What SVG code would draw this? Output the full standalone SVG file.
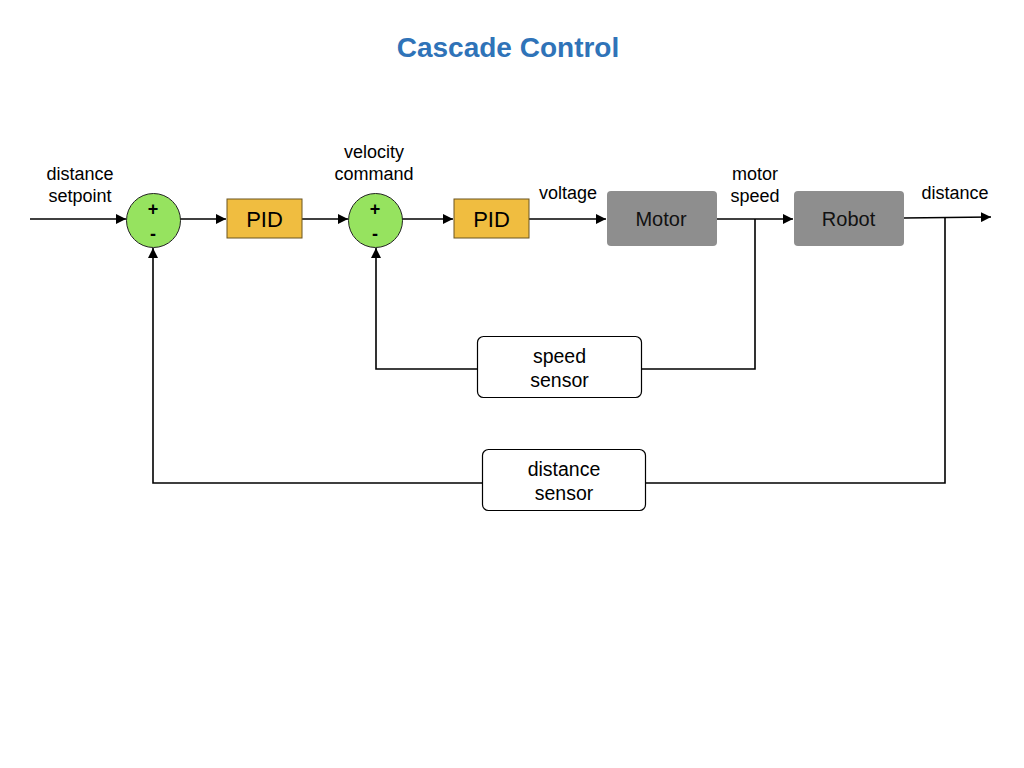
<svg xmlns="http://www.w3.org/2000/svg" width="1024" height="768" viewBox="0 0 1024 768">
<defs>
<marker id="arr" viewBox="0 0 10 10" refX="10" refY="5" markerWidth="10" markerHeight="10" markerUnits="userSpaceOnUse" orient="auto">
<path d="M0,0 L10,5 L0,10 z" fill="#000"/>
</marker>
<style>
text{font-family:"Helvetica","Liberation Sans",Arial,sans-serif;fill:#000;text-anchor:middle}
.lbl{font-size:18px}
.sum{fill:#96e35f;stroke:#222;stroke-width:1}
.sign{font-size:18px;font-weight:bold}
.pid{fill:#f0bd40;stroke:#6b5520;stroke-width:1}
.pidt{font-size:22px}
.plant{fill:#8e8e8e}
.plantt{font-size:20px;fill:#111}
.sensor{fill:#fff;stroke:#000;stroke-width:1.2}
.sensort{font-size:19.5px}
.ln{fill:none;stroke:#000;stroke-width:1.6}
</style>
</defs>
<rect width="1024" height="768" fill="#fff"/>
<text x="508" y="57" style="font-size:28px;font-weight:bold;fill:#2f73b8">Cascade Control</text>

<g id="connectors">
<line class="ln" x1="30" y1="219" x2="126" y2="219" marker-end="url(#arr)"/>
<line class="ln" x1="180" y1="219" x2="226" y2="219" marker-end="url(#arr)"/>
<line class="ln" x1="302" y1="219" x2="348" y2="219" marker-end="url(#arr)"/>
<line class="ln" x1="402" y1="219" x2="453" y2="219" marker-end="url(#arr)"/>
<line class="ln" x1="529" y1="219" x2="606" y2="219" marker-end="url(#arr)"/>
<line class="ln" x1="717" y1="219" x2="793" y2="219" marker-end="url(#arr)"/>
<line class="ln" x1="904" y1="218" x2="991" y2="217" marker-end="url(#arr)"/>
<polyline class="ln" points="755,219 755,369 642,369"/>
<polyline class="ln" points="477,369 376,369 376,248" marker-end="url(#arr)"/>
<polyline class="ln" points="945,218 945,483 646,483"/>
<polyline class="ln" points="482,483 153,483 153,248" marker-end="url(#arr)"/>
</g>

<g id="sum1">
<circle class="sum" cx="153.5" cy="220.5" r="27"/>
<text class="sign" x="153" y="215">+</text>
<text class="sign" x="153" y="240">-</text>
</g>
<g id="pid1">
<rect class="pid" x="227" y="199" width="75" height="39"/>
<text class="pidt" x="264.5" y="226.5">PID</text>
</g>
<g id="sum2">
<circle class="sum" cx="375.5" cy="220.5" r="27"/>
<text class="sign" x="375" y="215">+</text>
<text class="sign" x="375" y="240">-</text>
</g>
<g id="pid2">
<rect class="pid" x="454" y="199" width="75" height="39"/>
<text class="pidt" x="491.5" y="226.5">PID</text>
</g>
<g id="motor">
<rect class="plant" x="607" y="191" width="110" height="55" rx="4"/>
<text class="plantt" x="661" y="226">Motor</text>
</g>
<g id="robot">
<rect class="plant" x="794" y="191" width="110" height="55" rx="4"/>
<text class="plantt" x="848.5" y="226">Robot</text>
</g>
<g id="speed-sensor">
<rect class="sensor" x="477.5" y="336.5" width="164" height="61" rx="6"/>
<text class="sensort" x="559.5" y="363">speed</text>
<text class="sensort" x="559.5" y="387">sensor</text>
</g>
<g id="distance-sensor">
<rect class="sensor" x="482.5" y="449.5" width="163" height="61" rx="6"/>
<text class="sensort" x="564" y="476">distance</text>
<text class="sensort" x="564" y="500">sensor</text>
</g>

<g id="labels">
<text class="lbl" x="80" y="180">distance</text>
<text class="lbl" x="80" y="202">setpoint</text>
<text class="lbl" x="374" y="158">velocity</text>
<text class="lbl" x="374" y="180">command</text>
<text class="lbl" x="568" y="199">voltage</text>
<text class="lbl" x="755" y="180">motor</text>
<text class="lbl" x="755" y="202">speed</text>
<text class="lbl" x="955" y="199">distance</text>
</g>
</svg>
